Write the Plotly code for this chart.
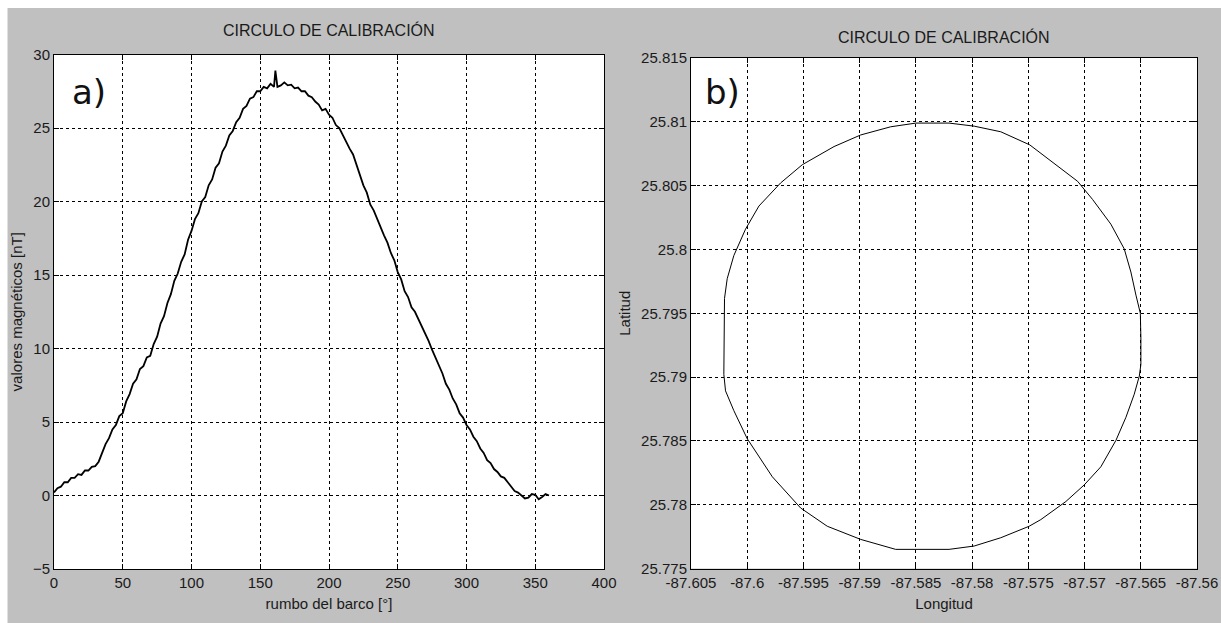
import plotly.graph_objects as go

# ---------- data: panel a) ----------
rumbo = [0, 2.5, 5, 7.5, 10, 12.5, 15, 17.5, 20, 22.5, 25, 27.5, 30, 32.5, 35, 37.5, 40, 42.5, 45, 47.5,
         50, 52.5, 55, 57.5, 60, 62.5, 65, 67.5, 70, 72.5, 75, 77.5, 80, 82.5, 85, 87.5, 90, 92.5, 95, 97.5,
         100, 102.5, 105, 107.5, 110, 112.5, 115, 117.5, 120, 122.5, 125, 127.5, 130, 132.5, 135, 137.5,
         140, 142.5, 145, 147.5, 150, 152.5, 155, 157.5, 160, 161, 162.5, 165, 167.5, 170, 172.5, 175, 177.5,
         180, 182.5, 185, 187.5, 190, 192.5, 195, 197.5, 200, 202.5, 205, 207.5, 210, 212.5, 215, 217.5,
         220, 222.5, 225, 227.5, 230, 232.5, 235, 237.5, 240, 242.5, 245, 247.5, 250, 252.5, 255, 257.5,
         260, 262.5, 265, 267.5, 270, 272.5, 275, 277.5, 280, 282.5, 285, 287.5, 290, 292.5, 295, 297.5,
         300, 302.5, 305, 307.5, 310, 312.5, 315, 317.5, 320, 322.5, 325, 327.5, 330, 332.5, 335, 337.5,
         340, 342.5, 345, 347.5, 350, 352.5, 355, 357.5, 360]
magnetico = [0.2, 0.5, 0.6, 0.9, 0.9, 1.2, 1.2, 1.45, 1.4, 1.7, 1.7, 1.95, 2.0, 2.3, 2.9, 3.5, 3.9, 4.5, 4.8, 5.4,
             5.6, 6.4, 6.9, 7.6, 7.9, 8.6, 8.8, 9.4, 9.5, 10.3, 10.8, 11.7, 12.2, 13.1, 13.7, 14.6, 15.1, 15.9, 16.4, 17.4,
             18.0, 18.8, 19.2, 20.0, 20.3, 21.1, 21.5, 22.3, 22.6, 23.4, 23.8, 24.5, 24.8, 25.4, 25.7, 26.3,
             26.5, 27.0, 27.1, 27.5, 27.5, 27.8, 27.7, 28.0, 27.8, 28.9, 27.8, 27.9, 28.1, 27.9, 27.95, 27.7, 27.75,
             27.5, 27.5, 27.2, 27.1, 26.8, 26.6, 26.2, 26.3, 25.9, 25.7, 25.2, 25.0, 24.5, 24.1, 23.6, 23.2,
             22.5, 21.9, 21.1, 20.6, 19.8, 19.4, 18.8, 18.3, 17.7, 17.2, 16.5, 16.0, 15.2, 14.7, 13.9, 13.5,
             12.8, 12.5, 12.0, 11.6, 11.0, 10.5, 9.9, 9.4, 8.8, 8.3, 7.6, 7.2, 6.6, 6.2, 5.6, 5.3,
             4.8, 4.5, 4.0, 3.7, 3.2, 2.9, 2.4, 2.2, 1.8, 1.6, 1.3, 1.2, 0.9, 0.6, 0.3, 0.2,
             0.0, -0.2, -0.15, 0.1, 0.05, -0.25, -0.1, 0.1, 0.0]

# ---------- data: panel b) ----------
longitud = [-87.5850, -87.58205, -87.57982, -87.57745, -87.57487, -87.5727, -87.57062, -87.56929, -87.56766,
            -87.56647, -87.56588, -87.56543, -87.56504, -87.56499, -87.56499, -87.56513, -87.56558, -87.56632,
            -87.56721, -87.56855, -87.57003, -87.57166, -87.57389, -87.57493, -87.57745, -87.57982, -87.58205,
            -87.5868, -87.58991, -87.59288, -87.59525, -87.59777, -87.6, -87.60119, -87.60193, -87.60208,
            -87.60208, -87.60202, -87.60178, -87.60119, -87.60015, -87.59896, -87.59703, -87.5951, -87.59228,
            -87.58991, -87.58724, -87.5850]
latitud = [25.8099, 25.8099, 25.80966, 25.80922, 25.80819, 25.80677, 25.80534, 25.80392, 25.80198,
           25.80004, 25.79823, 25.79642, 25.7950, 25.79306, 25.79099, 25.79008, 25.78866, 25.78685,
           25.78504, 25.78297, 25.78155, 25.78025, 25.77883, 25.77831, 25.77741, 25.77676, 25.7765,
           25.7765, 25.77728, 25.77831, 25.77974, 25.78219, 25.78517, 25.78737, 25.78892, 25.79021,
           25.79357, 25.79616, 25.79771, 25.79952, 25.80159, 25.8034, 25.80521, 25.80664, 25.80806,
           25.80897, 25.80961, 25.8099]

# ---------- tick labels ----------
xa_ticks = [0, 50, 100, 150, 200, 250, 300, 350, 400]
ya_ticks = [-5, 0, 5, 10, 15, 20, 25, 30]
xb_ticks = [-87.605, -87.6, -87.595, -87.59, -87.585, -87.58, -87.575, -87.57, -87.565, -87.56]
xb_text = ["-87.605", "-87.6", "-87.595", "-87.59", "-87.585", "-87.58", "-87.575", "-87.57", "-87.565", "-87.56"]
yb_ticks = [25.775, 25.78, 25.785, 25.79, 25.795, 25.8, 25.805, 25.81, 25.815]
yb_text = ["25.775", "25.78", "25.785", "25.79", "25.795", "25.8", "25.805", "25.81", "25.815"]

W, H = 1221, 623
FONT = "Liberation Sans Narrow, Arial Narrow, Liberation Sans, Arial, sans-serif"
TXT = "#1a1a1a"


def px(x):
    return x / W


def py(y):
    return 1 - y / H


fig = go.Figure()
fig.add_trace(go.Scatter(x=rumbo, y=magnetico, mode="lines", line=dict(color="black", width=1.8),
                         xaxis="x", yaxis="y", showlegend=False))
fig.add_trace(go.Scatter(x=longitud, y=latitud, mode="lines", line=dict(color="black", width=1),
                         xaxis="x2", yaxis="y2", showlegend=False))


def ax(**kw):
    base = dict(showline=True, linecolor="black", linewidth=1, mirror="ticks", ticks="inside",
                ticklen=5, tickcolor="black", showgrid=True, gridcolor="black", gridwidth=1,
                griddash="3px,3px", zeroline=False, tickfont=dict(family=FONT, size=15, color=TXT),
                fixedrange=True, automargin=False)
    base.update(kw)
    return base


fig.update_layout(
    width=W, height=H,
    margin=dict(l=0, r=0, t=0, b=0, pad=0),
    paper_bgcolor="#c0c0c0",
    plot_bgcolor="white",
    font=dict(family=FONT, size=15, color=TXT),
    xaxis=ax(domain=[px(54), px(604)], range=[0, 400], tickvals=xa_ticks, anchor="y",
             title=dict(text="rumbo del barco [°]", font=dict(family=FONT, size=15, color=TXT), standoff=8)),
    yaxis=ax(domain=[py(569), py(54.5)], range=[-5, 30], tickvals=ya_ticks, anchor="x",
             title=dict(text="valores magnéticos [nT]", font=dict(family=FONT, size=15, color=TXT), standoff=6)),
    xaxis2=ax(domain=[px(691), px(1197)], range=[-87.605, -87.56], tickvals=xb_ticks, ticktext=xb_text,
              anchor="y2",
              title=dict(text="Longitud", font=dict(family=FONT, size=15, color=TXT), standoff=8)),
    yaxis2=ax(domain=[py(568.5), py(58)], range=[25.775, 25.815], tickvals=yb_ticks, ticktext=yb_text,
              anchor="x2",
              title=dict(text="Latitud", font=dict(family=FONT, size=15, color=TXT), standoff=6)),
    shapes=[
        dict(type="rect", xref="paper", yref="paper", x0=0, x1=1, y0=py(8), y1=1,
             fillcolor="white", line=dict(width=0), layer="below"),
        dict(type="rect", xref="paper", yref="paper", x0=0, x1=px(7.5), y0=0, y1=1,
             fillcolor="white", line=dict(width=0), layer="below"),
    ],
    annotations=[
        dict(text="CIRCULO DE CALIBRACIÓN", xref="paper", yref="paper", x=px(329), y=py(30),
             showarrow=False, font=dict(family=FONT, size=16, color=TXT), xanchor="center", yanchor="middle"),
        dict(text="CIRCULO DE CALIBRACIÓN", xref="paper", yref="paper", x=px(944), y=py(37),
             showarrow=False, font=dict(family=FONT, size=16, color=TXT), xanchor="center", yanchor="middle"),
        dict(text="a)", xref="paper", yref="paper", x=px(70), y=py(92), showarrow=False,
             font=dict(family="DejaVu Sans", size=34, color="#111"), xanchor="left", yanchor="middle"),
        dict(text="b)", xref="paper", yref="paper", x=px(703), y=py(92), showarrow=False,
             font=dict(family="DejaVu Sans", size=34, color="#111"), xanchor="left", yanchor="middle"),
    ],
)

fig.write_html("out.html", config={"displayModeBar": False},
               post_script="document.body.style.margin='0';document.body.style.overflow='hidden';")
